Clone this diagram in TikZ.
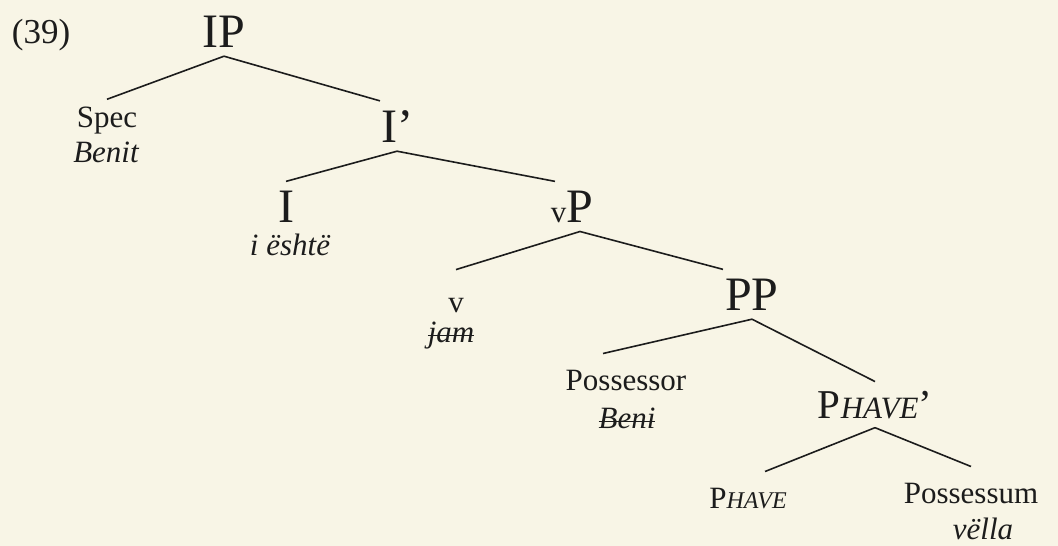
\documentclass[tikz,border=0pt]{standalone}
\usepackage{fontspec}
\setmainfont{Liberation Serif}
\definecolor{paper}{HTML}{F8F5E6}
\definecolor{ink}{HTML}{1C1C1C}
\newcommand\bigsize{\fontsize{48}{57}\selectfont}
\newcommand\midsize{\fontsize{41}{49}\selectfont}
\newcommand\smallsize{\fontsize{31}{37}\selectfont}
\newcommand\tinysize{\fontsize{24}{29}\selectfont}
\newcommand\crossed[1]{\setbox0\hbox{#1}\rlap{\rule[0.2em]{\wd0}{1.2pt}}\box0}
\tikzset{
  phrase/.style={font=\bigsize, text=ink, anchor=base, inner sep=9pt},
  leaf/.style={font=\smallsize, text=ink, anchor=base, inner sep=16pt},
  word/.style={font=\smallsize\itshape, text=ink, anchor=base, inner sep=0pt},
  branch/.style={draw=ink, line width=1.6pt}
}

\begin{document}
\begin{tikzpicture}[x=1pt,y=-1pt]
  \fill[paper] (0,0) rectangle (1058,546);
  \useasboundingbox (0,0) rectangle (1058,546);
  % example number
  \node[leaf, font=\fontsize{35}{42}\selectfont, inner sep=0pt] (exno) at (41,43) {(39)};
  % phrase nodes
  \node[phrase] (ip) at (224,47) {IP};
  \node[phrase] (ibar) at (397,142) {I’};
  \node[phrase] (infl) at (286,222) {I};
  \node[phrase] (vp) at (572,222) {{\smallsize v}P};
  \node[phrase] (pp) at (752,310) {PP};
  \node[phrase, font=\midsize] (phavebar) at (875,418) {P{\smallsize\itshape HAVE}’};
  % leaves
  \node[leaf] (spec) at (107,127) {Spec};
  \node[word] (benit) at (106,162) {Benit};
  \node[word] (este) at (290,255) {i është};
  \node[leaf] (vhead) at (456,312) {v};
  \node[word] (jam) at (451,342) {\crossed{jam}};
  \node[leaf] (possessor) at (626,390) {Possessor};
  \node[word] (beni) at (627,428) {\crossed{Beni}};
  \node[leaf] (phave) at (748,508) {P{\tinysize\itshape HAVE}};
  \node[leaf] (possessum) at (971,503) {Possessum};
  \node[word] (vella) at (983,539) {vëlla};
  % branches
  \draw[branch] (ip.south) -- ([yshift=-9pt]spec.north);
  \draw[branch] (ip.south) -- ([xshift=-17pt]ibar.north);
  \draw[branch] (ibar.south) -- (infl.north);
  \draw[branch] (ibar.south) -- ([xshift=-17pt]vp.north);
  \draw[branch] ([xshift=8pt]vp.south) -- ([yshift=12pt]vhead.north);
  \draw[branch] ([xshift=8pt]vp.south) -- ([xshift=-29pt]pp.north);
  \draw[branch] (pp.south) -- ([xshift=-23pt]possessor.north);
  \draw[branch] (pp.south) -- (phavebar.north);
  \draw[branch] (phavebar.south) -- ([xshift=17pt]phave.north);
  \draw[branch] (phavebar.south) -- (possessum.north);
\end{tikzpicture}
\end{document}
